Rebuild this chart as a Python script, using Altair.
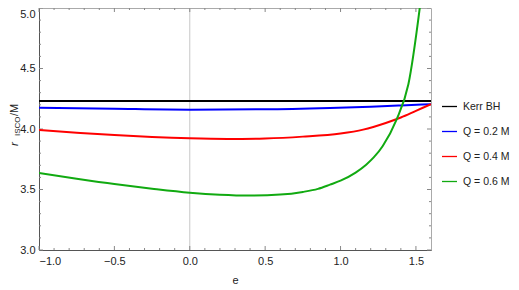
import altair as alt
import pandas as pd

# ---- data ----
series_names = ["Kerr BH", "Q = 0.2 M", "Q = 0.4 M", "Q = 0.6 M"]
series_colors = ["#000000", "#0000ff", "#ff0000", "#11aa11"]

e_kerr = [-1.0, 1.6]
r_kerr = [4.231, 4.231]

e_q02 = [-1.0, -0.5, 0.0, 0.5, 0.93, 1.2, 1.4, 1.6]
r_q02 = [4.176, 4.167, 4.160, 4.163, 4.174, 4.184, 4.194, 4.205]

e_q04 = [-1.0, -0.75, -0.5, -0.25, 0.0, 0.25, 0.5, 0.75, 1.0, 1.15, 1.3, 1.4, 1.5, 1.6]
r_q04 = [3.992, 3.970, 3.950, 3.934, 3.923, 3.918, 3.922, 3.937, 3.963, 3.995, 4.050, 4.095, 4.150, 4.205]

e_q06 = [-1.0, -0.75, -0.5, -0.25, 0.0, 0.2, 0.4, 0.6, 0.75, 0.85, 0.93, 1.0, 1.1, 1.17, 1.22, 1.28, 1.37, 1.45, 1.56]
r_q06 = [3.636, 3.589, 3.545, 3.507, 3.474, 3.457, 3.450, 3.458, 3.480, 3.505, 3.540, 3.573, 3.640, 3.705, 3.765, 3.860, 4.074, 4.370, 5.35]

x_major = [-1.0, -0.5, 0.0, 0.5, 1.0, 1.5]
x_minor = [-0.9, -0.8, -0.7, -0.6, -0.4, -0.3, -0.2, -0.1, 0.1, 0.2, 0.3, 0.4,
           0.6, 0.7, 0.8, 0.9, 1.1, 1.2, 1.3, 1.4]
y_major = [3.0, 3.5, 4.0, 4.5, 5.0]
y_minor = [3.1, 3.2, 3.3, 3.4, 3.6, 3.7, 3.8, 3.9, 4.1, 4.2, 4.3, 4.4, 4.6, 4.7, 4.8, 4.9]
x_domain = [-1.0, 1.6]
y_domain = [3.0, 5.0]

FONT = "Liberation Sans"
W, H = 392, 242

rows = []
for name, es, rs in zip(series_names, [e_kerr, e_q02, e_q04, e_q06], [r_kerr, r_q02, r_q04, r_q06]):
    for e, r in zip(es, rs):
        rows.append({"e": e, "r": r, "series": name})
df = pd.DataFrame(rows)

xs = alt.Scale(domain=x_domain, nice=False, zero=False)
ys = alt.Scale(domain=y_domain, nice=False, zero=False)

x_axis = alt.Axis(values=x_major, format=".1f", ticks=False, grid=False,
                  domainColor="#555", labelFont=FONT, labelFontSize=11,
                  labelColor="#222", labelPadding=5, title="e",
                  titleFont=FONT, titleFontSize=11, titleFontWeight="normal",
                  titleColor="#222", titlePadding=8)
y_axis = alt.Axis(values=y_major, format=".1f", ticks=False, grid=False,
                  domainColor="#555", labelFont=FONT, labelFontSize=11,
                  labelColor="#222", labelPadding=4, title=None,
                  labelBaseline={"condition": {"test": "datum.value >= 5", "value": "top"}, "value": "middle"})

zero_line = alt.Chart(pd.DataFrame({"e": [0.0]})).mark_rule(color="#c8c8c8", strokeWidth=1).encode(
    x=alt.X("e:Q", scale=xs, axis=x_axis)
)

lines = alt.Chart(df).mark_line(strokeWidth=2, clip=True, interpolate="monotone").encode(
    x=alt.X("e:Q", scale=xs, axis=x_axis),
    y=alt.Y("r:Q", scale=ys, axis=y_axis),
    color=alt.Color("series:N",
                    scale=alt.Scale(domain=series_names, range=series_colors),
                    sort=series_names,
                    legend=alt.Legend(orient="none", legendX=402, legendY=90, title=None,
                                      symbolType="stroke", symbolSize=225, symbolStrokeWidth=1.3,
                                      labelFont=FONT, labelFontSize=10.5, labelColor="#222",
                                      labelOffset=5, rowPadding=11, padding=0)),
    detail="series:N",
)

TC = "#888"
xmaj = pd.DataFrame({"e": x_major})
xmin = pd.DataFrame({"e": x_minor})
ymaj = pd.DataFrame({"r": y_major})
ymin = pd.DataFrame({"r": y_minor})


def xticks(d, ln):
    bot = alt.Chart(d).mark_rule(color=TC, strokeWidth=1).encode(
        x=alt.X("e:Q", scale=xs), y=alt.value(H), y2=alt.value(H - ln))
    top = alt.Chart(d).mark_rule(color=TC, strokeWidth=1).encode(
        x=alt.X("e:Q", scale=xs), y=alt.value(0), y2=alt.value(ln))
    return [bot, top]


def yticks(d, ln):
    left = alt.Chart(d).mark_rule(color=TC, strokeWidth=1).encode(
        y=alt.Y("r:Q", scale=ys), x=alt.value(0), x2=alt.value(ln))
    right = alt.Chart(d).mark_rule(color=TC, strokeWidth=1).encode(
        y=alt.Y("r:Q", scale=ys), x=alt.value(W), x2=alt.value(W - ln))
    return [left, right]


tick_layers = xticks(xmaj, 4) + xticks(xmin, 2) + yticks(ymaj, 4) + yticks(ymin, 2)

# y-axis title r_ISCO/M built from pieces (kept inside the drawing area)
t_r = alt.Chart(pd.DataFrame({"t": ["r"]})).mark_text(
    angle=270, align="left", baseline="alphabetic", font=FONT, fontSize=11.5,
    fontStyle="italic", color="#222").encode(text="t:N", x=alt.value(-21), y=alt.value(138))
t_sub = alt.Chart(pd.DataFrame({"t": ["ISCO"]})).mark_text(
    angle=270, align="left", baseline="alphabetic", font=FONT, fontSize=8,
    color="#222").encode(text="t:N", x=alt.value(-19), y=alt.value(128))
t_m = alt.Chart(pd.DataFrame({"t": ["/M"]})).mark_text(
    angle=270, align="left", baseline="alphabetic", font=FONT, fontSize=11,
    color="#222").encode(text="t:N", x=alt.value(-21), y=alt.value(108))

chart = alt.layer(zero_line, *tick_layers, lines, t_r, t_sub, t_m).properties(
    width=W, height=H,
    autosize=alt.AutoSizeParams(type="none"),
    padding={"left": 31, "top": 0, "right": 80, "bottom": 38},
).configure_view(stroke="#aaa", strokeWidth=1).configure_axis(domainWidth=1)

chart.save("out.html", embed_options={"renderer": "svg", "actions": False})
